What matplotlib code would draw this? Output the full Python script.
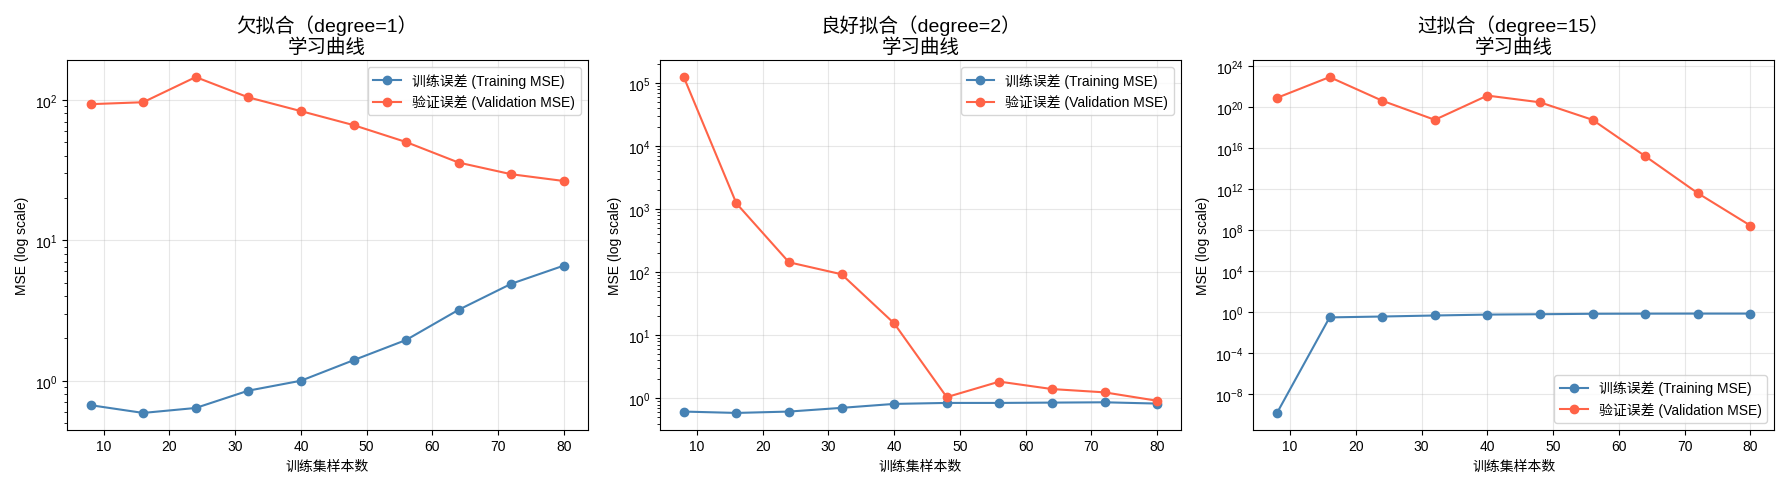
import numpy as np
import matplotlib
matplotlib.use("Agg")
import matplotlib.pyplot as plt

# 字体：拉丁字符用 Liberation Sans，中文回退到 Noto Sans CJK SC
plt.rcParams['font.family'] = ['Liberation Sans', 'Noto Sans CJK SC']
plt.rcParams['axes.unicode_minus'] = False

# 训练集样本数
train_sizes = [8, 16, 24, 32, 40, 48, 56, 64, 72, 80]

# 欠拟合 degree=1
train_d1 = [0.67, 0.59, 0.64, 0.85, 1.0, 1.40, 1.95, 3.2, 4.9, 6.6]
val_d1 = [93, 96, 145, 104, 83, 66, 50, 35.7, 29.5, 26.4]

# 良好拟合 degree=2
train_d2 = [0.62, 0.59, 0.62, 0.71, 0.82, 0.85, 0.85, 0.86, 0.87, 0.83]
val_d2 = [1.24e5, 1236, 144, 93, 15.5, 1.05, 1.85, 1.41, 1.25, 0.92]

# 过拟合 degree=15
train_d15 = [1.6e-10, 0.32, 0.39, 0.49, 0.6, 0.65, 0.72, 0.74, 0.75, 0.75]
val_d15 = [7.6e20, 8e22, 4e20, 5.5e18, 1.26e21, 2.8e20, 5.5e18, 1.6e15, 4e11, 2.8e8]

titles = ['欠拟合（degree=1）\n学习曲线',
          '良好拟合（degree=2）\n学习曲线',
          '过拟合（degree=15）\n学习曲线']
train_all = [train_d1, train_d2, train_d15]
val_all = [val_d1, val_d2, val_d15]
legend_locs = ['upper right', 'upper right', 'lower right']

fig, axes = plt.subplots(1, 3, figsize=(17.89, 4.89), dpi=100)

for i, ax in enumerate(axes):
    ax.plot(train_sizes, train_all[i], 'o-', color='steelblue', label='训练误差 (Training MSE)',
            linewidth=1.5, markersize=6)
    ax.plot(train_sizes, val_all[i], 'o-', color='tomato', label='验证误差 (Validation MSE)',
            linewidth=1.5, markersize=6)
    ax.set_yscale('log')
    ax.set_title(titles[i], fontsize=14)
    ax.set_xlabel('训练集样本数')
    ax.set_ylabel('MSE (log scale)')
    ax.grid(True, alpha=0.3)
    ax.legend(loc=legend_locs[i])

# 第三张图刻度每4个数量级一个
axes[2].set_yticks([10.0 ** k for k in range(-8, 25, 4)])
axes[2].minorticks_off()

plt.tight_layout()
plt.savefig('out.png')
